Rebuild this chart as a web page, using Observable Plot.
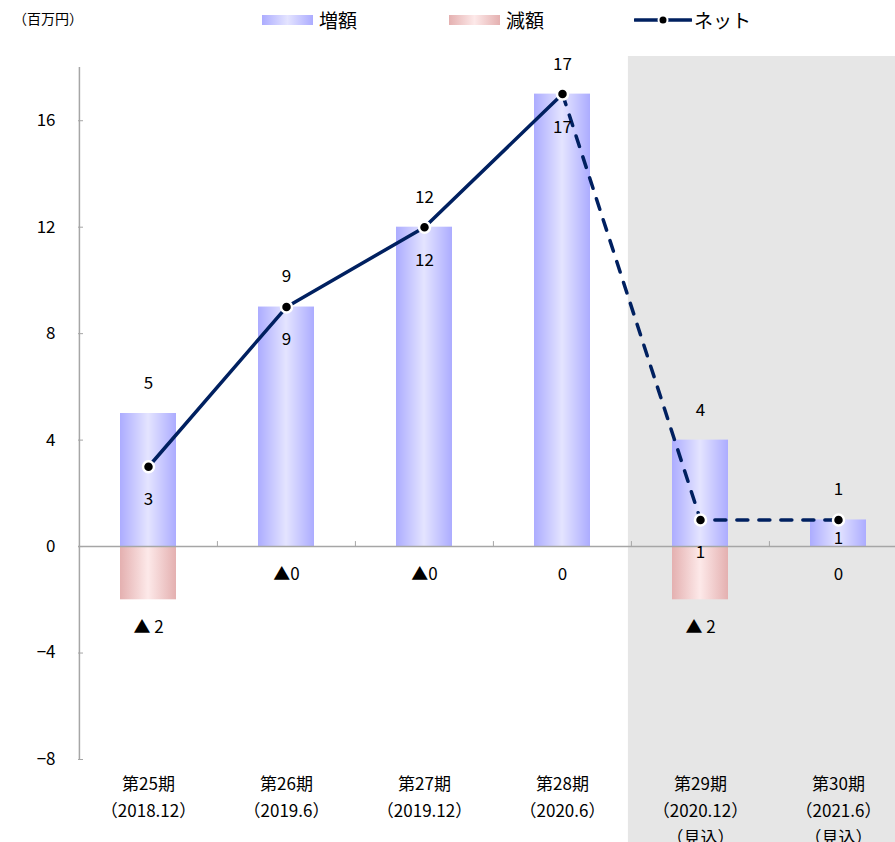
<!DOCTYPE html>
<html>
<head>
<meta charset="utf-8">
<script src="https://cdn.jsdelivr.net/npm/d3@7"></script>
<script src="https://cdn.jsdelivr.net/npm/@observablehq/plot@0.6"></script>
<style>
  body { margin: 0; background: #fff; font-family: "Noto Sans CJK JP", "Noto Sans", sans-serif; color: #000; }
  #wrap { position: relative; width: 895px; height: 842px; overflow: hidden; }
  #head { position: relative; height: 40px; }
  .unit { position: absolute; left: 13px; top: 8px; font-size: 14px; line-height: 20px; }
  .item { position: absolute; top: 7px; height: 26px; display: flex; align-items: center; font-size: 19px; line-height: 26px; }
  .sw { width: 51px; height: 10px; margin-right: 6px; }
  .sw.inc { background: linear-gradient(to right, #acacff, #e4e4ff 50%, #acacff); }
  .sw.dec { background: linear-gradient(to right, #e4b0b0, #fde9e9 50%, #e4b0b0); }
  .lineKey { width: 58px; height: 12px; margin-right: 2px; }
</style>
</head>
<body>
<div id="wrap">
  <div id="head">
    <div class="unit">（百万円）</div>
    <div class="item" style="left:262px"><div class="sw inc"></div><span>増額</span></div>
    <div class="item" style="left:449px"><div class="sw dec"></div><span>減額</span></div>
    <div class="item" style="left:634px">
      <svg class="lineKey" viewBox="0 0 58 12">
        <line x1="1" y1="6" x2="57" y2="6" stroke="#002060" stroke-width="3.5" stroke-linecap="round"/>
        <circle cx="29" cy="6" r="4.5" fill="#000" stroke="#fff" stroke-width="2"/>
      </svg>
      <span>ネット</span>
    </div>
  </div>
  <div id="chart"></div>
</div>
<script>
// Fiscal periods and their closing months
const periods = ["第25期", "第26期", "第27期", "第28期", "第29期", "第30期"];
const periodDates = ["（2018.12）", "（2019.6）", "（2019.12）", "（2020.6）", "（2020.12）", "（2021.6）"];
// Periods that are forecasts (shaded)
const forecastPeriods = ["第29期", "第30期"];
const forecastNote = "（見込）";

// Values in millions of yen
const increase = [5, 9, 12, 17, 4, 1];
const decrease = [-2, 0, 0, 0, -2, 0];
const decreaseLabels = ["▲ 2", "▲0", "▲0", "0", "▲ 2", "0"];
const net = [3, 9, 12, 17, 1, 1];

const yTicks = [-8, -4, 0, 4, 8, 12, 16];
const yDomain = [-8, 18];

const rows = periods.map((p, i) => ({
  period: p, inc: increase[i], dec: decrease[i], decLabel: decreaseLabels[i], net: net[i]
}));

const W = 895, H = 802;
const mL = 78, mR = -12, mT = 27, mB = 83;
const padInner = 0.595;
const plotW = W - mL - mR;
const step = plotW / periods.length;
const bw = step * (1 - padInner);
const gap = (step - bw) / 2;

const firstForecast = periods.indexOf(forecastPeriods[0]);
const actualRows = rows.slice(0, firstForecast);
const forecastRows = rows.slice(firstForecast - 1);
// the last net label sits inside its short bar so it clears the decrease label below
const lastRow = rows[rows.length - 1];
const otherRows = rows.slice(0, -1);

const axisGray = "#a6a6a6";
const navy = "#002060";
const font = "'Noto Sans CJK JP', 'Noto Sans', sans-serif";

const xLabel = p => {
  const i = periods.indexOf(p);
  return p + "\n" + periodDates[i] + (forecastPeriods.includes(p) ? "\n" + forecastNote : "");
};

const chart = Plot.plot({
  width: W,
  height: H,
  marginLeft: mL,
  marginRight: mR,
  marginTop: mT,
  marginBottom: mB,
  style: { fontFamily: font, fontSize: "17px", color: "#000", background: "transparent" },
  x: { type: "band", domain: periods, paddingInner: padInner, paddingOuter: padInner / 2 },
  y: { domain: yDomain },
  marks: [
    // forecast shading
    Plot.barY(forecastPeriods, {
      x: d => d, y1: yDomain[0], y2: yDomain[1], fill: "#e6e6e6",
      insetLeft: -(gap + 3), insetRight: -(gap + 3), insetTop: -11, insetBottom: -mB
    }),
    // increase / decrease bars
    Plot.barY(rows, { x: "period", y: "inc", fill: "url(#gradInc)" }),
    Plot.barY(rows, { x: "period", y: "dec", fill: "url(#gradDec)" }),
    // zero baseline and category separators
    Plot.ruleY([0], { stroke: axisGray, strokeWidth: 1.5 }),
    Plot.ruleX(periods.slice(1), {
      x: d => d, y1: 0, y2: 0, dx: -step / 2, insetBottom: 5, stroke: axisGray, strokeWidth: 1
    }),
    // y axis line, inward ticks and labels
    Plot.ruleX([periods[0]], { dx: -step / 2, y1: yDomain[0], y2: yDomain[1], stroke: axisGray, strokeWidth: 1.5 }),
    Plot.tickY(yTicks, { y: d => d, insetRight: plotW - 5, stroke: axisGray, strokeWidth: 1 }),
    Plot.axisY({ ticks: yTicks, tickSize: 0, tickPadding: 23, fontSize: 17, label: null }),
    // period labels
    Plot.axisX({ tickSize: 0, tickPadding: 11, fontSize: 17, lineHeight: 1.6, tickFormat: xLabel, label: null }),
    // net line: solid for results, dashed for forecasts
    Plot.line(actualRows, { x: "period", y: "net", stroke: navy, strokeWidth: 3.5 }),
    Plot.line(forecastRows, {
      x: "period", y: "net", stroke: navy, strokeWidth: 3.5, strokeDasharray: "11,11", strokeLinecap: "round"
    }),
    Plot.dot(rows, { x: "period", y: "net", r: 5.5, fill: "#000", stroke: "#fff", strokeWidth: 2.5 }),
    // value labels
    Plot.text(rows, { x: "period", y: "inc", text: d => String(d.inc), dy: -30, fontSize: 17 }),
    Plot.text(otherRows, { x: "period", y: "net", text: d => String(d.net), dy: 33, fontSize: 17 }),
    Plot.text([lastRow], { x: "period", y: "net", text: d => String(d.net), dy: 19, fontSize: 17 }),
    Plot.text(rows, { x: "period", y: "dec", text: "decLabel", dy: 28, fontSize: 17 })
  ]
});

// horizontal gradients giving the bars their cylindrical shading
const defs = d3.select(chart).insert("defs", ":first-child");
function addGradient(id, edge, mid) {
  const g = defs.append("linearGradient").attr("id", id).attr("x1", "0").attr("x2", "1").attr("y1", "0").attr("y2", "0");
  g.append("stop").attr("offset", "0%").attr("stop-color", edge);
  g.append("stop").attr("offset", "50%").attr("stop-color", mid);
  g.append("stop").attr("offset", "100%").attr("stop-color", edge);
}
addGradient("gradInc", "#acacff", "#e4e4ff");
addGradient("gradDec", "#e4b0b0", "#fde9e9");

d3.select(chart).style("display", "block").style("overflow", "hidden");
document.getElementById("chart").appendChild(chart);
</script>
</body>
</html>
